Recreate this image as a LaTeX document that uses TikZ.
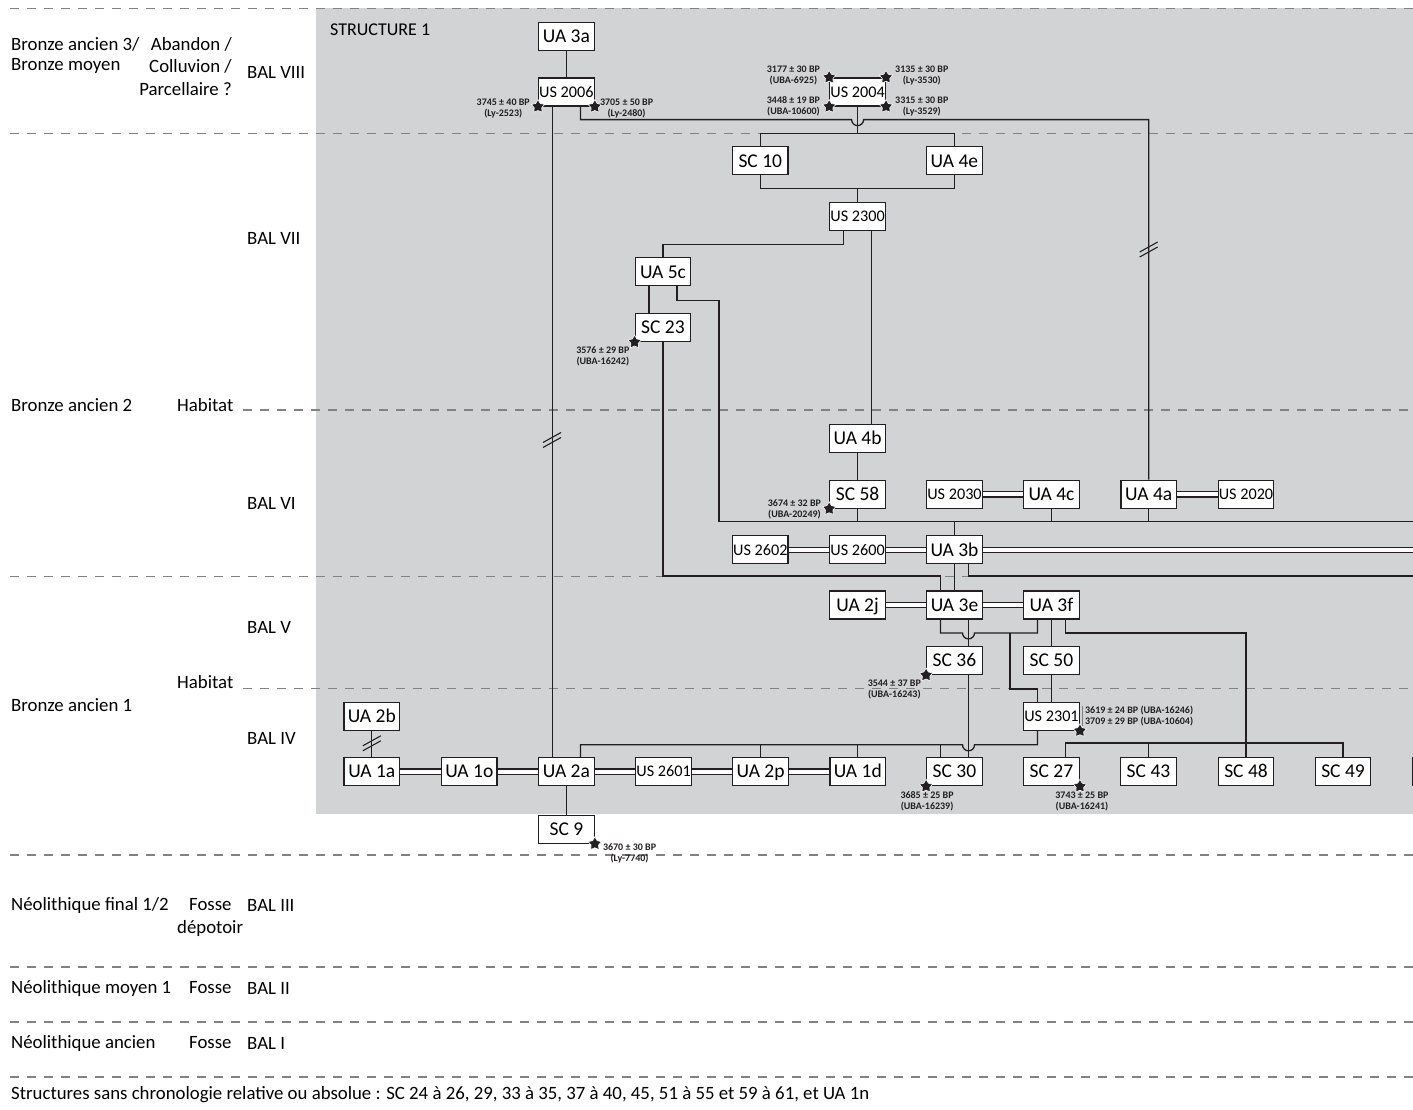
\documentclass[tikz,border=0pt]{standalone}
\usepackage{fontspec}
\setmainfont{Carlito}
\usepackage{tikz}
\usetikzlibrary{calc, shapes.geometric}
\definecolor{bggray}{RGB}{209,211,212}
\definecolor{ink}{RGB}{35,31,32}
\definecolor{dashgray}{RGB}{128,130,133}
\tikzset{
  unit/.style={draw=ink, fill=white, line width=1.25pt, minimum width=55.6pt, minimum height=28pt, inner sep=0pt, text height=12.5pt, text depth=0pt, font=\fontsize{19.5}{19.5}\selectfont},
  usunit/.style={unit, text height=10.5pt, text depth=0pt, font=\fontsize{16.2}{16.2}\selectfont},
  link/.style={draw=ink, line width=1.3pt},
  dbl/.style={draw=ink, line width=1.2pt, double=white, double distance=4.2pt},
  phase/.style={draw=dashgray, line width=1.2pt, dash pattern=on 9pt off 8pt},
  lbl/.style={anchor=west, inner sep=0pt, font=\fontsize{18.8}{18.8}\selectfont},
  date/.style={inner sep=0pt, align=center, text=ink, font=\bfseries\fontsize{10}{11}\selectfont},
  dot/.style={star, star points=5, star point ratio=1.8, fill=ink, draw=white, line width=0.6pt, minimum size=14pt, inner sep=0pt},
  cut/.style={draw=ink, line width=1.1pt}
}
\begin{document}
\begin{tikzpicture}[x=1pt, y=-1pt]
\useasboundingbox (0,0) rectangle (1413,1110);
\fill[bggray] (316,8.3) rectangle (1413,814.3);
\foreach \yy in {8.3,133.3,576.7,855,967,1022,1077}
  \draw[phase] (10,\yy) -- (1413,\yy);
\foreach \yy in {410,688.3}
  \draw[phase] (243,\yy) -- (1413,\yy);

\node[lbl] (per1) at (11,44) {Bronze ancien 3/};
\node[lbl] (per2) at (11,66) {Bronze moyen};
\node[lbl, anchor=east] (fn1) at (232,44) {Abandon /};
\node[lbl, anchor=east] (fn2) at (232,66) {Colluvion /};
\node[lbl, anchor=east] (fn3) at (232,89) {Parcellaire ?};
\node[lbl] (bal8) at (247,72) {BAL VIII};
\node[lbl] (bal7) at (247,238) {BAL VII};
\node[lbl] (per3) at (11,405) {Bronze ancien 2};
\node[lbl] (fn4) at (177,405) {Habitat};
\node[lbl] (bal6) at (247,503) {BAL VI};
\node[lbl] (bal5) at (247,627) {BAL V};
\node[lbl] (fn5) at (177,682) {Habitat};
\node[lbl] (per4) at (11,705) {Bronze ancien 1};
\node[lbl] (bal4) at (247,738) {BAL IV};
\node[lbl] (per5) at (11,905) {Néolithique final 1/2};
\node[lbl] (fn6) at (189,905) {Fosse};
\node[lbl] (fn7) at (177,928) {dépotoir};
\node[lbl] (bal3) at (247,905) {BAL III};
\node[lbl] (per6) at (11,988) {Néolithique moyen 1};
\node[lbl] (fn8) at (189,988) {Fosse};
\node[lbl] (bal2) at (247,988) {BAL II};
\node[lbl] (per7) at (11,1043) {Néolithique ancien};
\node[lbl] (fn9) at (189,1043) {Fosse};
\node[lbl] (bal1) at (247,1043) {BAL I};
\node[lbl] (note) at (11,1095) {Structures sans chronologie relative ou absolue : SC 24 à 26, 29, 33 à 35, 37 à 40, 45, 51 à 55 et 59 à 61, et UA 1n};
\node[lbl, font=\fontsize{18}{18}\selectfont] (struct) at (330,30) {STRUCTURE 1};

\node[unit] (ua3a) at (566.4,36.2) {UA 3a};
\node[usunit] (us2006) at (566.4,92) {US 2006};
\node[usunit] (us2004) at (857.6,92) {US 2004};
\node[unit] (sc10) at (760.3,160.8) {SC 10};
\node[unit] (ua4e) at (954.4,160.8) {UA 4e};
\node[usunit] (us2300) at (857.6,216.5) {US 2300};
\node[unit] (ua5c) at (663,271.8) {UA 5c};
\node[unit] (sc23) at (663,327.5) {SC 23};
\node[unit] (ua4b) at (857.6,438.5) {UA 4b};
\node[unit] (sc58) at (857.6,494.2) {SC 58};
\node[usunit] (us2030) at (954.5,494.2) {US 2030};
\node[unit] (ua4c) at (1051.5,494.2) {UA 4c};
\node[unit] (ua4a) at (1148.7,494.2) {UA 4a};
\node[usunit] (us2020) at (1246,494.2) {US 2020};
\node[usunit] (us2602) at (760.3,549.8) {US 2602};
\node[usunit] (us2600) at (857.6,549.8) {US 2600};
\node[unit] (ua3b) at (954.5,549.8) {UA 3b};
\node[unit] (ua2j) at (857.6,605) {UA 2j};
\node[unit] (ua3e) at (954.5,605) {UA 3e};
\node[unit] (ua3f) at (1051.5,605) {UA 3f};
\node[unit] (sc36) at (954.5,660.5) {SC 36};
\node[unit] (sc50) at (1051.5,660.5) {SC 50};
\node[unit] (ua2b) at (371.8,716.2) {UA 2b};
\node[usunit] (us2301) at (1051.5,716.2) {US 2301};
\node[unit] (ua1a) at (371.8,771.7) {UA 1a};
\node[unit] (ua1o) at (469.3,771.7) {UA 1o};
\node[unit] (ua2a) at (566.4,771.7) {UA 2a};
\node[usunit] (us2601) at (663.6,771.7) {US 2601};
\node[unit] (ua2p) at (760.6,771.7) {UA 2p};
\node[unit] (ua1d) at (857.8,771.7) {UA 1d};
\node[unit] (sc30) at (954.5,771.7) {SC 30};
\node[unit] (sc27) at (1051.5,771.7) {SC 27};
\node[unit] (sc43) at (1148.5,771.7) {SC 43};
\node[unit] (sc48) at (1246,771.7) {SC 48};
\node[unit] (sc49) at (1343,771.7) {SC 49};
\node[unit] (scx) at (1440,771.7) {};
\node[unit] (sc9) at (566.4,829.2) {SC 9};

\coordinate (rim) at (1420,0);
\coordinate (j1) at ($([xshift=14pt]us2006.south)+(0,13)$);
\coordinate (j2) at ($(us2004.south)+(0,26.7)$);
\coordinate (j3) at ($(us2300.north)+(0,-13.7)$);
\coordinate (busB) at ($(ua3b.north)+(0,-14)$);
\coordinate (busC) at ($(ua3e.north)+(0,-14.3)$);
\coordinate (busD) at ($([xshift=-14pt]ua3e.south)+(0,13.3)$);
\coordinate (busE) at ($([xshift=-14pt]us2301.south)+(0,14)$);
\coordinate (s30l) at ([xshift=-14pt]sc30.north);

\draw[link] (ua3a) -- (us2006);
\draw[link] ([xshift=-14pt]us2006.south) -- ([xshift=-14pt]ua2a.north);
\draw[link] ([xshift=14pt]us2006.south) -- (j1) -- ($(j1 -| us2004.south)+(-6,0)$) arc[start angle=180, end angle=360, radius=6pt] -- (j1 -| ua4a.north) -- (ua4a.north);
\draw[link] (us2004.south) -- (j2);
\draw[link] (sc10.north) |- (j2) -| (ua4e.north);
\draw[link] (us2300.north) -- (j3);
\draw[link] (sc10.south) |- (j3) -| (ua4e.south);
\draw[link] ([xshift=-14pt]us2300.south) -- ++(0,13.5) -| (ua5c.north);
\draw[link] ([xshift=14pt]us2300.south) -- ([xshift=14pt]ua4b.north);
\draw[link] (ua4b) -- (sc58);
\draw[link] ([xshift=-14pt]ua5c.south) -- ([xshift=-14pt]sc23.north);
\draw[link] ([xshift=14pt]ua5c.south) -- ++(0,14.3) -- ++(42,0) |- (busB) -- (busB -| rim);
\draw[link] (sc58.south) -- (sc58.south |- busB);
\draw[link] (ua4c.south) -- (ua4c.south |- busB);
\draw[link] (ua4a.south) -- (ua4a.south |- busB);
\draw[link] (busB) -- (ua3b.north);
\draw[dbl] (us2602) -- (us2600);
\draw[dbl] (us2600) -- (ua3b);
\draw[dbl] (ua3b.east) -- (ua3b.east -| rim);
\draw[dbl] (us2030) -- (ua4c);
\draw[dbl] (ua4a) -- (us2020);
\draw[link] ([xshift=14pt]ua3b.south) |- (busC -| rim);
\draw[link] (ua3b) -- (ua3e);
\draw[link] (sc23.south) |- ([xshift=-14pt]busC) -- ([xshift=-14pt]ua3e.north);
\draw[dbl] (ua2j) -- (ua3e);
\draw[dbl] (ua3e) -- (ua3f);
\draw[link] ([xshift=-14pt]ua3e.south) -- (busD) -- ++(22,0) arc[start angle=180, end angle=360, radius=6pt] -| ([xshift=-14pt]ua3f.south);
\draw[link] ([xshift=14pt]ua3e.south) -- ([xshift=14pt]sc36.north);
\draw[link] ([xshift=69.5pt]busD) -- ++(0,56) -| ([xshift=-14pt]us2301.north);
\draw[link] (ua3f) -- (sc50);
\draw[link] (sc50) -- (us2301);
\draw[link] ([xshift=14pt]ua3f.south) -- ++(0,13.3) -| (sc48.north);
\draw[link] ([xshift=14pt]sc36.south) -- ([xshift=14pt]sc30.north);
\draw[link] ([xshift=-14pt]us2301.south) -- (busE) -- ++(-63,0) arc[start angle=0, end angle=-180, radius=6pt] -| ([xshift=14pt]ua2a.north);
\draw[link] (ua2p.north) -- (ua2p.north |- busE);
\draw[link] (ua1d.north) -- (ua1d.north |- busE);
\draw[link] (s30l) -- (s30l |- busE);
\draw[link] ([xshift=14pt]sc27.north) -- ++(0,-14) -| (sc49.north);
\draw[link] (sc43.north) -- ++(0,-14);
\draw[link] (ua2b) -- (ua1a);
\foreach \a/\b in {ua1a/ua1o, ua1o/ua2a, ua2a/us2601, us2601/ua2p, ua2p/ua1d}
  \draw[dbl] (\a) -- (\b);
\draw[link] (ua2a) -- (sc9);

\foreach \c in {(552,440), (1148.7,249.5), (371.8,743.3)} {
  \draw[cut] \c ++(-9,2.5) -- ++(18,-10);
  \draw[cut] \c ++(-9,7.5) -- ++(18,-10);
}

\draw[draw=gray, line width=0.8pt] ([xshift=2.5pt,yshift=10pt]us2301.east) -- ([xshift=2.5pt,yshift=-10pt]us2301.east);

\foreach \p [count=\i] in {us2006.south west, us2006.south east, us2004.north west, us2004.north east, us2004.south west, us2004.south east, sc23.south west, sc58.south west, sc36.south west, us2301.south east, sc30.south west, sc27.south east, sc9.south east}
  \node[dot] (st\i) at (\p) {};

\node[date, anchor=east] (d1) at ([xshift=-8pt,yshift=-1.5pt]us2006.south west) {3745 ± 40 BP\\(Ly-2523)};
\node[date, anchor=west] (d2) at ([xshift=5pt,yshift=-1.5pt]us2006.south east) {3705 ± 50 BP\\(Ly-2480)};
\node[date, anchor=east] (d3) at ([xshift=-9pt,yshift=2pt]us2004.north west) {3177 ± 30 BP\\(UBA-6925)};
\node[date, anchor=east] (d4) at ([xshift=-9pt]us2004.south west) {3448 ± 19 BP\\(UBA-10600)};
\node[date, anchor=west] (d5) at ([xshift=9pt,yshift=2pt]us2004.north east) {3135 ± 30 BP\\(Ly-3530)};
\node[date, anchor=west] (d6) at ([xshift=9pt]us2004.south east) {3315 ± 30 BP\\(Ly-3529)};
\node[date, anchor=north east] (d7) at ([xshift=-5pt,yshift=-4pt]sc23.south west) {3576 ± 29 BP\\(UBA-16242)};
\node[date, anchor=east] (d8) at ([xshift=-8pt,yshift=-1pt]sc58.south west) {3674 ± 32 BP\\(UBA-20249)};
\node[date, anchor=north east] (d9) at ([xshift=-5pt,yshift=-5pt]sc36.south west) {3544 ± 37 BP\\(UBA-16243)};
\node[date, anchor=west, align=left] (d10) at ([xshift=5pt]us2301.east) {3619 ± 24 BP (UBA-16246)\\3709 ± 29 BP (UBA-10604)};
\node[date, anchor=north] (d11) at ([xshift=1pt,yshift=-5pt]sc30.south west) {3685 ± 25 BP\\(UBA-16239)};
\node[date, anchor=north] (d12) at ([xshift=2pt,yshift=-5pt]sc27.south east) {3743 ± 25 BP\\(UBA-16241)};
\node[date, anchor=north west] (d13) at ([xshift=8pt]sc9.south east) {3670 ± 30 BP\\(Ly-7740)};
\end{tikzpicture}
\end{document}
